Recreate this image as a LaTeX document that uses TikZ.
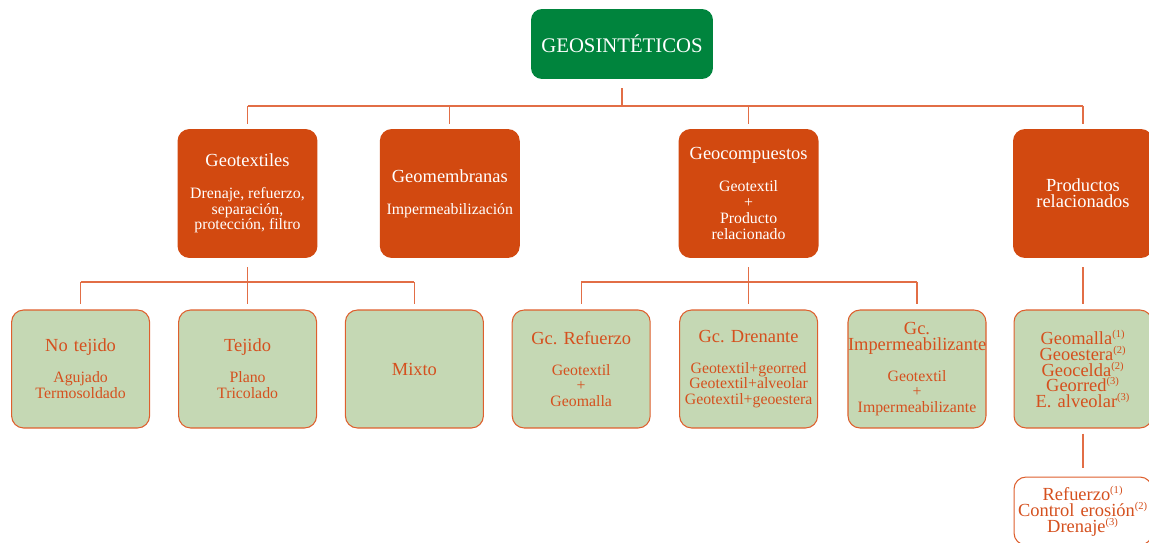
\documentclass[tikz,border=0pt]{standalone}
\usepackage{fontspec}
\setmainfont{Liberation Serif}
\usetikzlibrary{positioning}
\definecolor{verde}{RGB}{0,132,61}
\definecolor{naranja}{RGB}{210,73,16}
\definecolor{verdeclaro}{RGB}{197,216,180}
\definecolor{borde}{RGB}{222,95,45}
\definecolor{letra}{RGB}{213,80,30}
\definecolor{linea}{RGB}{226,110,70}
\newcommand{\cuerpo}{\fontsize{9}{8.6}\selectfont}
\newcommand{\nota}[1]{\textsuperscript{\fontsize{6}{6}\selectfont(#1)}}
\frenchspacing

\begin{document}
\begin{tikzpicture}[x=0.02cm, y=-0.02cm] %Geosintéticos
           		\tikzstyle{raiz} = [rectangle, rounded corners=0.22cm, fill=verde, text=white, minimum width=3.64cm, minimum height=1.4cm, text centered, align=center, font=\fontsize{11.8}{12}\selectfont]
           		\tikzstyle{familia} = [rectangle, rounded corners=0.24cm, fill=naranja, text=white, minimum width=2.8cm, minimum height=2.58cm, inner sep=1pt, text centered, align=center, font=\fontsize{10.5}{9}\selectfont]
           		\tikzstyle{tipo} = [rectangle, rounded corners=0.24cm, draw=borde, line width=0.6pt, fill=verdeclaro, text=letra, text width=2.76cm, minimum height=2.36cm, inner sep=0pt, text centered, align=center, font=\fontsize{10.5}{9}\selectfont]
           		\tikzstyle{uso} = [rectangle, rounded corners=0.24cm, draw=borde, line width=0.6pt, fill=white, text=letra, text width=2.76cm, minimum height=1.36cm, inner sep=0pt, text centered, align=center, font=\fontsize{10.5}{9.1}\selectfont]
           		\tikzstyle{conector} = [draw=linea, line width=0.6pt]
           		\useasboundingbox (0,0) rectangle (1149,543);
            		\node[raiz] (R) at (622,44) {GEOSINTÉTICOS};
            		\node[familia] (G1) at (247.5,193.5) {Geotextiles\\[9pt]\cuerpo Drenaje, refuerzo,\\\cuerpo separación,\\\cuerpo protección, filtro};
            		\node[familia] (G2) at (449.8,193.5) {Geomembranas\\[9pt]\cuerpo Impermeabilización};
            		\node[familia] (G3) at (748.6,193.5) {Geocompuestos\\[9pt]\cuerpo Geotextil\\\cuerpo +\\\cuerpo Producto\\\cuerpo relacionado};
            		\node[familia] (G4) at (1083,193.5) {Productos\\relacionados};
            		\node[tipo] (C1) at (80.6,369) {No tejido\\[9pt]\cuerpo Agujado\\\cuerpo Termosoldado};
            		\node[tipo] (C2) at (247.6,369) {Tejido\\[9pt]\cuerpo Plano\\\cuerpo Tricolado};
            		\node[tipo] (C3) at (414.4,369) {Mixto};
            		\node[tipo] (C4) at (581.2,369) {Gc.\ Refuerzo\\[9pt]\cuerpo Geotextil\\\cuerpo +\\\cuerpo Geomalla};
            		\node[tipo] (C5) at (748.6,369) {Gc.\ Drenante\\[9pt]\cuerpo Geotextil+georred\\\cuerpo Geotextil+alveolar\\\cuerpo Geotextil+geoestera};
            		\node[tipo] (C6) at (917,369) {Gc.\\Impermeabilizante\\[9pt]\cuerpo Geotextil\\\cuerpo +\\\cuerpo Impermeabilizante};
            		\node[tipo] (C7) at (1083,369) {Geomalla\nota{1}\\Geoestera\nota{2}\\Geocelda\nota{2}\\Georred\nota{3}\\E.\ alveolar\nota{3}};
            		\node[uso, below=0.96cm of C7] (D) {Refuerzo\nota{1}\\Control erosión\nota{2}\\Drenaje\nota{3}};
            		\coordinate (busA) at (0,106);
            		\coordinate (busB) at (0,282);
            		\draw[conector] ([yshift=-0.18cm]R.south) -- (R.south |- busA);
            		\draw[conector] (busA -| G1.north) -- (busA -| G4.north);
            		\foreach \i in {1,2,3,4}
            		{
                		\draw[conector] (busA -| G\i.north) -- ([yshift=0.1cm]G\i.north);
            		}
            		\draw[conector] ([yshift=-0.18cm]G1.south) -- (G1.south |- busB);
            		\draw[conector] (busB -| C1.north) -- (busB -| C3.north);
            		\draw[conector] ([yshift=-0.18cm]G3.south) -- (G3.south |- busB);
            		\draw[conector] (busB -| C4.north) -- (busB -| C6.north);
            		\foreach \i in {1,2,3,4,5,6}
            		{
                		\draw[conector] (busB -| C\i.north) -- ([yshift=0.1cm]C\i.north);
            		}
            		\draw[conector] ([yshift=-0.18cm]G4.south) -- ([yshift=0.1cm]C7.north);
            		\draw[conector] ([yshift=-0.1cm]C7.south) -- ([yshift=0.18cm]D.north);
        		\end{tikzpicture}
\end{document}
